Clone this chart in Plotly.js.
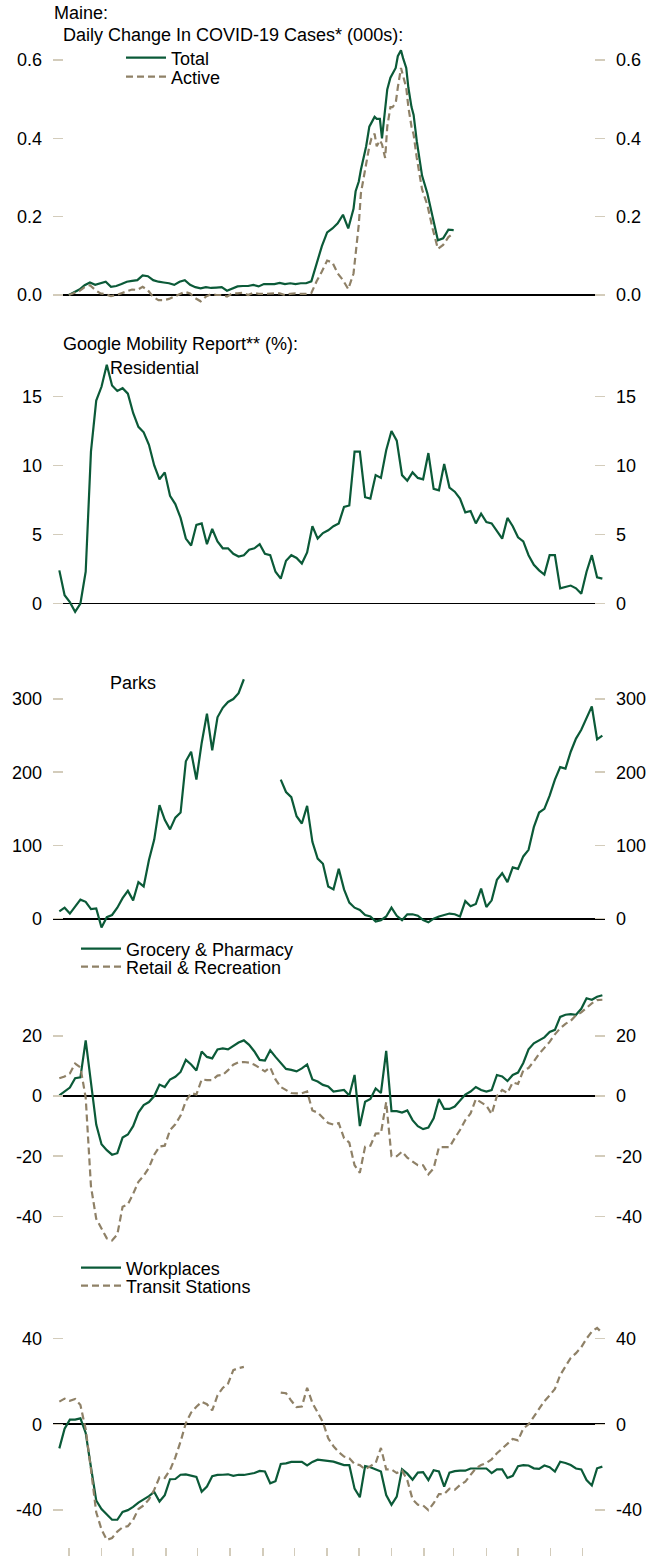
<!DOCTYPE html>
<html>
<head>
<meta charset="utf-8">
<script src="https://cdn.plot.ly/plotly-3.0.1.min.js"></script>
<style>
  html, body { margin: 0; padding: 0; background: #ffffff; }
  #chart { width: 668px; height: 1556px; }
</style>
</head>
<body>
<div id="chart"></div>
<script>
// ---------------- DATA ----------------
// Daily change in COVID-19 cases (000s)
const caseDates = [
  '2020-03-01','2020-03-06','2020-03-11','2020-03-16','2020-03-21','2020-03-26','2020-03-31',
  '2020-04-05','2020-04-10','2020-04-15','2020-04-20','2020-04-25','2020-04-30',
  '2020-05-05','2020-05-10','2020-05-15','2020-05-20','2020-05-25','2020-05-30',
  '2020-06-04','2020-06-09','2020-06-14','2020-06-19','2020-06-24','2020-06-29',
  '2020-07-04','2020-07-09','2020-07-14','2020-07-19','2020-07-24','2020-07-29',
  '2020-08-03','2020-08-08','2020-08-13','2020-08-18','2020-08-23','2020-08-28',
  '2020-09-02','2020-09-07','2020-09-12','2020-09-17','2020-09-22','2020-09-27',
  '2020-10-02','2020-10-07','2020-10-12','2020-10-17','2020-10-22','2020-10-27',
  '2020-11-01','2020-11-06','2020-11-11','2020-11-16','2020-11-21',
  '2020-11-26','2020-11-28','2020-12-01','2020-12-03','2020-12-06','2020-12-08',
  '2020-12-11','2020-12-13','2020-12-16','2020-12-18','2020-12-21','2020-12-23',
  '2020-12-26','2020-12-28','2020-12-31','2021-01-02','2021-01-05','2021-01-07',
  '2021-01-10','2021-01-12','2021-01-15','2021-01-17','2021-01-20','2021-01-22',
  '2021-01-25','2021-01-30',
  '2021-02-04','2021-02-09','2021-02-14','2021-02-19','2021-02-24','2021-03-01'
];
const casesTotal = [
  0, 0.007, 0.014, 0.025, 0.032, 0.026, 0.03, 0.034, 0.021, 0.023,
  0.028, 0.034, 0.036, 0.038, 0.05, 0.048, 0.038, 0.034, 0.032, 0.03,
  0.026, 0.034, 0.038, 0.026, 0.02, 0.017, 0.02, 0.018, 0.019, 0.02,
  0.011, 0.016, 0.022, 0.023, 0.023, 0.026, 0.022, 0.028, 0.028, 0.028,
  0.031, 0.028, 0.03, 0.028, 0.03, 0.03, 0.035, 0.08, 0.125, 0.16,
  0.17, 0.183, 0.205, 0.17,
  0.22, 0.265, 0.29, 0.32, 0.36, 0.38,
  0.43, 0.44, 0.455, 0.45, 0.45, 0.40,
  0.48, 0.525, 0.555, 0.565, 0.58, 0.61,
  0.625, 0.605, 0.58, 0.53, 0.48, 0.46,
  0.393, 0.305,
  0.26, 0.2, 0.14, 0.145, 0.167, 0.166
];
const casesActive = [
  0, 0.004, 0.01, 0.02, 0.025, 0.013, 0.004, 0.002, -0.003, 0,
  0.005, 0.011, 0.014, 0.013, 0.021, 0.012, -0.005, -0.013, -0.013, -0.01,
  -0.004, 0, 0.008, 0.004, -0.008, -0.016, -0.004, 0.002, 0, 0,
  -0.004, 0.004, 0.004, 0.006, 0, 0.006, 0.003, 0.003, 0.004, 0.004,
  0.004, 0, 0.003, 0.004, 0.003, 0.003, 0.005, 0.035, 0.06, 0.088,
  0.083, 0.055, 0.038, 0.015,
  0.055, 0.105, 0.18, 0.26, 0.305, 0.34,
  0.38, 0.40, 0.412, 0.38, 0.395, 0.385,
  0.35, 0.43, 0.48, 0.48, 0.49, 0.53,
  0.58, 0.56, 0.53, 0.48, 0.43, 0.41,
  0.35, 0.27,
  0.23, 0.17, 0.118, 0.128, 0.148, 0.158
];

// Google Mobility Report (%), every 5 days from 2020-02-21
const mobDates = [
  '2020-02-21','2020-02-26','2020-03-02','2020-03-07','2020-03-12','2020-03-17','2020-03-22','2020-03-27',
  '2020-04-01','2020-04-06','2020-04-11','2020-04-16','2020-04-21','2020-04-26',
  '2020-05-01','2020-05-06','2020-05-11','2020-05-16','2020-05-21','2020-05-26','2020-05-31',
  '2020-06-05','2020-06-10','2020-06-15','2020-06-20','2020-06-25','2020-06-30',
  '2020-07-05','2020-07-10','2020-07-15','2020-07-20','2020-07-25','2020-07-30',
  '2020-08-04','2020-08-09','2020-08-14','2020-08-19','2020-08-24','2020-08-29',
  '2020-09-03','2020-09-08','2020-09-13','2020-09-18','2020-09-23','2020-09-28',
  '2020-10-03','2020-10-08','2020-10-13','2020-10-18','2020-10-23','2020-10-28',
  '2020-11-02','2020-11-07','2020-11-12','2020-11-17','2020-11-22','2020-11-27',
  '2020-12-02','2020-12-07','2020-12-12','2020-12-17','2020-12-22','2020-12-27',
  '2021-01-01','2021-01-06','2021-01-11','2021-01-16','2021-01-21','2021-01-26','2021-01-31',
  '2021-02-05','2021-02-10','2021-02-15','2021-02-20','2021-02-25',
  '2021-03-02','2021-03-07','2021-03-12','2021-03-17','2021-03-22','2021-03-27',
  '2021-04-01','2021-04-06','2021-04-11','2021-04-16','2021-04-21','2021-04-26',
  '2021-05-01','2021-05-06','2021-05-11','2021-05-16','2021-05-21','2021-05-26','2021-05-31',
  '2021-06-05','2021-06-10','2021-06-15','2021-06-20','2021-06-25','2021-06-30',
  '2021-07-05','2021-07-10','2021-07-15','2021-07-20'
];
const residential = [
  2.4, 0.6, 0.1, -0.6, 0.0, 2.3, 11.0, 14.7, 15.7, 17.3,
  15.8, 15.4, 15.6, 15.2, 13.8, 12.8, 12.4, 11.5, 10.0, 9.0,
  9.5, 7.8, 7.2, 6.2, 4.7, 4.2, 5.7, 5.8, 4.3, 5.4,
  4.5, 4.0, 4.0, 3.6, 3.4, 3.5, 3.9, 4.0, 4.3, 3.6,
  3.5, 2.3, 1.8, 3.1, 3.5, 3.3, 2.9, 3.7, 5.6, 4.7,
  5.1, 5.3, 5.6, 5.8, 7.0, 7.1, 11.0, 11.0, 7.7, 7.6,
  9.3, 9.1, 11.1, 12.5, 11.8, 9.3, 8.9, 9.5, 9.1, 9.0,
  10.9, 8.3, 8.2, 10.1, 8.4, 8.1, 7.6, 6.6, 6.7, 5.8,
  6.5, 5.9, 5.8, 5.2, 4.7, 6.2, 5.6, 4.8, 4.5, 3.5,
  2.8, 2.4, 2.1, 3.5, 3.5, 1.1, 1.2, 1.3, 1.1, 0.7,
  2.3, 3.5, 1.9, 1.8
];
const parks = [
  10, 15, 7, 16, 26, 23, 13, 14, -12, 2,
  5, 15, 28, 38, 25, 50, 44, 80, 108, 155,
  135, 122, 138, 145, 215, 228, 190, 240, 280, 230,
  275, 288, 296, 300, 308, 327, null, null, null, null,
  null, null, 190, 173, 166, 140, 130, 154, 105, 82,
  75, 44, 40, 68, 40, 22, 15, 12, 5, 3,
  -4, -2, 3, 15, 4, -2, 6, 6, 4, -2,
  -5, 0, 3, 5, 7, 6, 3, 24, 17, 20,
  41, 16, 25, 53, 62, 50, 70, 68, 85, 94,
  125, 145, 150, 168, 190, 207, 205, 228, 246, 258,
  275, 290, 245, 250
];
const grocery = [
  0.2, 1.6, 2.8, 5.9, 6.2, 18.5, 4, -9.5, -16, -18,
  -19.5, -19, -13.8, -12.8, -10, -5.5, -3, -2, 0, 3.8,
  3, 5.5, 6.4, 8, 12, 10.5, 8.5, 14.8, 13, 12.5,
  15.5, 15.8, 15.5, 16.8, 17.8, 18.5, 17, 14.8, 12, 11.8,
  15.2, 13, 11, 9, 8.7, 8.2, 9.2, 10.5, 5.5, 4.8,
  3.7, 3.2, 1.5, 1.8, 2, 0.2, 7, -10, -1.9, -1,
  2.5, 1, 15, -5, -5, -5.5, -4.8, -8, -10, -11,
  -10.5, -7.4, -1, -4.3, -4.3, -3.5, -1.5, 0.5, 1.5, 3,
  2, 1.5, 2, 7, 6.5, 5, 7, 7.8, 11, 15.5,
  17.5, 18.5, 19.5, 21.3, 22, 26.3, 27, 27.2, 27, 29,
  32.5, 32, 33, 33.5
];
const retail = [
  5.9, 6.5, 7.5, 10.8, 9.5, -0.5, -30, -40.8, -44, -47.3,
  -48, -46, -36.8, -36, -32.5, -28.5, -26.5, -23.8, -19.5, -16.8,
  -16.5, -11.3, -9.4, -6.5, -1.7, 1.0, 0.5, 5.5, 5.3, 5.3,
  6.8, 7, 8.6, 10.4, 11.2, 11.3, 11.1, 10.4, 9.3, 8.2,
  9.5, 5.5, 3, 2, 1, 0.9, 0.9, 1.5, -4.8, -5.5,
  -7.2, -9, -9.5, -9, -14, -15.5, -23, -25.5, -16.8, -16.5,
  -12.5, -12.4, -2, -20, -20, -18.5, -20.5, -21.8, -23, -23,
  -26, -24, -17, -17, -17, -14, -11.3, -8, -5.8, -1,
  -2, -3.2, -6, 0, 2, 1, 4.5, 4, 8.5, 9.3,
  11.5, 14, 16, 18, 20.5, 22.5, 24, 25, 26.8, 27.8,
  29.3, 30.8, 31.9, 32
];
const workplaces = [
  -11.2, -2, 2.2, 2.2, 2.8, -4, -20, -35.5, -39.5, -42.2,
  -44.5, -44.5, -40.8, -40, -38.5, -36.5, -35, -33.5, -31.5, -36,
  -33, -25.6, -25.5, -23.5, -23.3, -24, -24.5, -31.4, -29, -24.2,
  -23.6, -23.5, -23.3, -24, -23.5, -23.6, -23.3, -22.7, -21.7, -22,
  -27.5, -26.5, -18.5, -18.2, -17.5, -17.5, -17.5, -19.2, -17.5, -16.5,
  -16.8, -17.4, -17.4, -18.2, -19, -19, -30, -34, -19.5, -20,
  -21, -22, -33, -37.5, -33.7, -21, -23, -25.8, -22.5, -22.3,
  -26, -21.4, -22, -29, -22.5, -21.8, -21.6, -21.6, -20.6, -20.6,
  -20.6, -20.6, -22.7, -21, -21, -25, -24, -19.5, -19, -19.2,
  -20.5, -20.8, -19.2, -20, -22, -17.4, -18, -19, -20.6, -21,
  -26, -28.5, -20.5, -19.7
];
const transit = [
  10.6, 12, 11, 11.8, 9, -2.3, -21, -41, -49, -53.9,
  -53, -50, -48, -47.5, -44.5, -39.5, -37.8, -35, -30.5, -24.7,
  -25, -21.3, -15.4, -8, 0.6, 5.5, 8.2, 10.5, 9.4, 6.5,
  13.5, 17, 19, 25.3, 26.2, 26.8, null, null, null, null,
  null, null, 14.8, 14.5, 11, 8, 8.3, 17, 10, 5.5,
  1, -6.5, -10.2, -13, -15, -15.8, -18.5, -19, -21, -19.5,
  -18, -11, -21, -21, -22.7, -21.5, -26, -35, -37.5, -37.8,
  -40, -36.8, -32.5, -32.5, -30, -30.5, -28.3, -26.7, -23.5, -20.5,
  -19, -18, -16.3, -13.5, -11.3, -8.9, -6.8, -7.5, -2, 0,
  3.5, 7.4, 10.8, 13.5, 16.5, 23, 27.3, 31, 33.2, 36,
  40, 43.2, 45, 42.5
];

// tick labels
const ticks1 = [0, 0.2, 0.4, 0.6];
const ticks1Text = ['0.0', '0.2', '0.4', '0.6'];
const ticks2 = [0, 5, 10, 15];
const ticks3 = [0, 100, 200, 300];
const ticks4 = [-40, -20, 0, 20];
const ticks5 = [-40, 0, 40];

// ---------------- STYLE / LAYOUT ----------------
const W = 668, H = 1556, L = 53, R = 63;
const GREEN = '#0b5a38';
const TAN = '#8f8167';
const TICKC = '#d3ccbb';
const FONT = 'Liberation Sans, Arial, Helvetica, sans-serif';
const FS = 18;

function dom(topPx, botPx) { return [1 - botPx / H, 1 - topPx / H]; }
function pxX(x) { return (x - L) / (W - L - R); }
function pxY(y) { return 1 - y / H; }

const panels = [
  { d: dom(45, 305),   r: [-0.0255, 0.6386], tv: ticks1, tt: ticks1Text },
  { d: dom(360, 618),  r: [-1.05, 17.64],    tv: ticks2, tt: ticks2.map(String) },
  { d: dom(672, 935),  r: [-22.3, 336.9],    tv: ticks3, tt: ticks3.map(String) },
  { d: dom(988, 1248), r: [-50.5, 35.9],     tv: ticks4, tt: ticks4.map(String) },
  { d: dom(1318, 1547),r: [-57.2, 49.6],     tv: ticks5, tt: ticks5.map(String) }
];

const layout = {
  width: W, height: H,
  margin: { l: L, r: R, t: 0, b: 0, pad: 0 },
  paper_bgcolor: '#ffffff', plot_bgcolor: '#ffffff',
  font: { family: FONT, size: FS, color: '#000000' },
  showlegend: true,
  hovermode: false,
  xaxis: {
    type: 'date', range: ['2020-02-15', '2021-07-22 12:00'], domain: [0, 1],
    anchor: 'y5', showgrid: false, zeroline: false, showline: false,
    ticks: 'outside', ticklen: 12, tickwidth: 1.5, tickcolor: TICKC,
    tick0: '2020-03-01', dtick: 'M1', showticklabels: false, fixedrange: true
  },
  annotations: [],
  shapes: []
};

panels.forEach((p, i) => {
  const n = i + 1;
  const base = {
    domain: p.d, range: p.r, tickmode: 'array', tickvals: p.tv, ticktext: p.tt,
    ticks: 'inside', ticklen: 10, tickwidth: 1.5, tickcolor: TICKC,
    showgrid: false, showline: false, anchor: 'x', fixedrange: true,
    tickfont: { family: FONT, size: FS, color: '#000000' },
    ticklabelstandoff: 10
  };
  layout['yaxis' + (n === 1 ? '' : n)] = Object.assign({}, base, {
    zeroline: true, zerolinecolor: '#000000', zerolinewidth: 1.8
  });
  layout['yaxis' + (n + 5)] = Object.assign({}, base, {
    zeroline: false, side: 'right', overlaying: 'y' + (n === 1 ? '' : n)
  });
});

// text labels
function label(text, x, y) {
  layout.annotations.push({
    text: text, xref: 'paper', yref: 'paper', x: pxX(x), y: pxY(y),
    xanchor: 'left', yanchor: 'middle', showarrow: false,
    font: { family: FONT, size: FS, color: '#000000' }
  });
}
label('Maine:', 52, 13);
label('Daily Change In COVID-19 Cases* (000s):', 61, 35);
label('Google Mobility Report** (%):', 61, 344);
label('Residential', 108, 368);
label('Parks', 108, 683);

// legends (one per entry, placed individually)
function legendAt(x, y) {
  return {
    x: pxX(x), y: pxY(y), xref: 'paper', yref: 'paper',
    xanchor: 'left', yanchor: 'middle',
    bgcolor: 'rgba(0,0,0,0)', borderwidth: 0, itemwidth: 40,
    font: { family: FONT, size: FS, color: '#000000' }
  };
}
layout.legend  = legendAt(121, 58);
layout.legend2 = legendAt(121, 77);
layout.legend3 = legendAt(76, 949);
layout.legend4 = legendAt(76, 967);
layout.legend5 = legendAt(76, 1268);
layout.legend6 = legendAt(76, 1286);

const solid = { color: GREEN, width: 2.2 };
const dashed = { color: TAN, width: 2.2, dash: '7px,4px' };

const traces = [
  { type: 'scatter', mode: 'lines', name: 'Total', x: caseDates, y: casesTotal,
    xaxis: 'x', yaxis: 'y', line: solid, legend: 'legend' },
  { type: 'scatter', mode: 'lines', name: 'Active', x: caseDates, y: casesActive,
    xaxis: 'x', yaxis: 'y', line: dashed, legend: 'legend2' },
  { type: 'scatter', mode: 'lines', name: 'Residential', x: mobDates, y: residential,
    xaxis: 'x', yaxis: 'y2', line: solid, showlegend: false },
  { type: 'scatter', mode: 'lines', name: 'Parks', x: mobDates, y: parks,
    xaxis: 'x', yaxis: 'y3', line: solid, showlegend: false, connectgaps: false },
  { type: 'scatter', mode: 'lines', name: 'Grocery & Pharmacy', x: mobDates, y: grocery,
    xaxis: 'x', yaxis: 'y4', line: solid, legend: 'legend3' },
  { type: 'scatter', mode: 'lines', name: 'Retail & Recreation', x: mobDates, y: retail,
    xaxis: 'x', yaxis: 'y4', line: dashed, legend: 'legend4' },
  { type: 'scatter', mode: 'lines', name: 'Workplaces', x: mobDates, y: workplaces,
    xaxis: 'x', yaxis: 'y5', line: solid, legend: 'legend5' },
  { type: 'scatter', mode: 'lines', name: 'Transit Stations', x: mobDates, y: transit,
    xaxis: 'x', yaxis: 'y5', line: dashed, legend: 'legend6', connectgaps: false }
];
// empty traces to bind the right-hand mirror axes
for (let n = 6; n <= 10; n++) {
  traces.push({ type: 'scatter', mode: 'lines', x: [], y: [], xaxis: 'x', yaxis: 'y' + n,
    showlegend: false, hoverinfo: 'skip' });
}

Plotly.newPlot('chart', traces, layout, { staticPlot: true, displayModeBar: false });
</script>
</body>
</html>
